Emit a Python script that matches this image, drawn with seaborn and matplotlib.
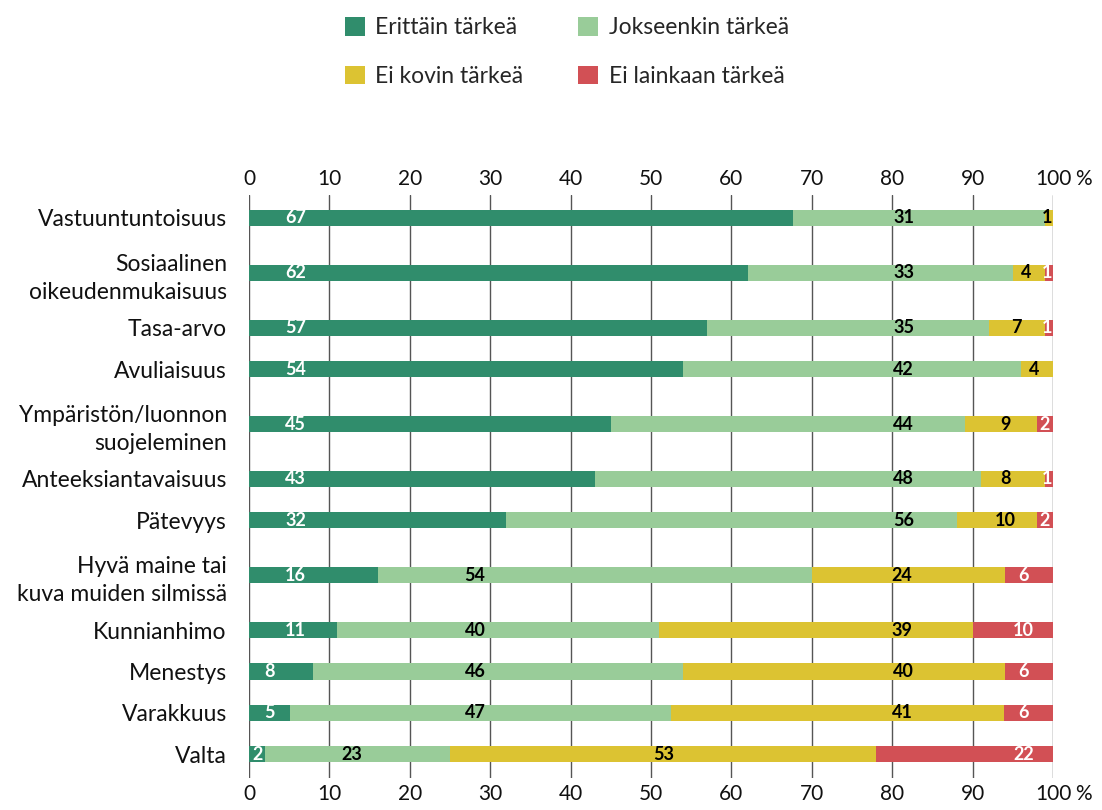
import matplotlib
matplotlib.use('Agg')
import matplotlib.pyplot as plt
from matplotlib.patches import Patch
import numpy as np
import seaborn as sns

categories = ['Vastuuntuntoisuus', 'Sosiaalinen\noikeudenmukaisuus', 'Tasa-arvo', 'Avuliaisuus',
              'Ympäristön/luonnon\nsuojeleminen', 'Anteeksiantavaisuus', 'Pätevyys',
              'Hyvä maine tai\nkuva muiden silmissä', 'Kunnianhimo', 'Menestys', 'Varakkuus', 'Valta']
erittain = [67, 62, 57, 54, 45, 43, 32, 16, 11, 8, 5, 2]
jokseenkin = [31, 33, 35, 42, 44, 48, 56, 54, 40, 46, 47, 23]
ei_kovin = [1, 4, 7, 4, 9, 8, 10, 24, 39, 40, 41, 53]
ei_lainkaan = [0, 1, 1, 0, 2, 1, 2, 6, 10, 6, 6, 22]
series_names = ['Erittäin tärkeä', 'Jokseenkin tärkeä', 'Ei kovin tärkeä', 'Ei lainkaan tärkeä']
tick_vals = list(range(0, 101, 10))

# styling / layout
colors = ['#308d6c', '#99cc99', '#dcc332', '#d25055']
text_colors = ['white', 'black', 'black', 'white']
# where the value labels sit along the bar (in %)
lab_x = [
    [5.8] * 9 + [2.5, 2.5, 1.0],
    [81.4] * 7 + [28.1] * 4 + [12.8],
    [99.3, 96.6, 95.4, 97.7, 94.1, 94.1, 94.1, 81.2, 81.2, 81.4, 81.2, 51.6],
    [99.4, 99.3, 99.3, 99.4, 99.0, 99.3, 99.0, 96.3, 96.3, 96.3, 96.3, 96.3],
]

sns.set_style('white')
plt.rcParams['font.family'] = ['Lato', 'DejaVu Sans']

# rows with two-line labels get a bit more room
n_lines = [c.count('\n') + 1 for c in categories]
gaps = [1 + 0.33 * ((a - 1) + (b - 1)) for a, b in zip(n_lines[:-1], n_lines[1:])]
ypos = np.concatenate([[0.0], np.cumsum(gaps)])

vals = np.array([erittain, jokseenkin, ei_kovin, ei_lainkaan], dtype=float)
shares = vals / vals.sum(axis=0) * 100
cum = shares.cumsum(axis=0)

fig = plt.figure(figsize=(11.02, 8.10), dpi=100)
ax = fig.add_axes([0.226, 0.0395, 0.7296, 0.7198])

for k in reversed(range(4)):
    sns.barplot(x=cum[k], y=ypos, orient='h', native_scale=True, color=colors[k],
                saturation=1, width=0.39, linewidth=0, errorbar=None, ax=ax, zorder=2)

for k in range(4):
    for i in range(len(categories)):
        if vals[k, i] > 0:
            ax.text(lab_x[k][i], ypos[i], str(int(vals[k, i])), ha='center', va='center',
                    color=text_colors[k], fontsize=13, fontweight='bold', zorder=3)

ax.set_xlim(0, 100)
ax.set_ylim(ypos[-1] + 0.58, -0.557)
ax.set_xticks(tick_vals, [str(t) for t in tick_vals])
ax.set_yticks(ypos, categories)
for lbl in ax.get_yticklabels():
    lbl.set_linespacing(1.4)
ax.tick_params(axis='y', length=0, pad=16, labelsize=16.5, colors='#111111')
ax.tick_params(axis='x', length=0, labelsize=15, colors='#111111', pad=4,
               top=True, labeltop=True, bottom=True, labelbottom=True)
# percent sign next to the last tick, top and bottom
ax.annotate('%', xy=(100, 1), xycoords=('data', 'axes fraction'), xytext=(16, 4),
            textcoords='offset points', ha='left', va='bottom', fontsize=15, color='#111111')
ax.annotate('%', xy=(100, 0), xycoords=('data', 'axes fraction'), xytext=(16, -4),
            textcoords='offset points', ha='left', va='top', fontsize=15, color='#111111')
ax.grid(axis='x', color='#555555', linewidth=1.0, zorder=0)
ax.grid(axis='y', visible=False)
ax.set_axisbelow(True)
for s in ax.spines.values():
    s.set_visible(False)
ax.set_xlabel('')
ax.set_ylabel('')

handles = [Patch(facecolor=c, edgecolor='none') for c in colors]
order = [0, 2, 1, 3]
fig.legend([handles[i] for i in order], [series_names[i] for i in order],
           loc='upper left', bbox_to_anchor=(0.313, 0.979), ncol=2,
           frameon=False, fontsize=16.5, handlelength=0.87, handleheight=0.87, handletextpad=0.45,
           columnspacing=2.4, labelspacing=1.2, borderpad=0, borderaxespad=0)

fig.savefig('out.png', dpi=100)
